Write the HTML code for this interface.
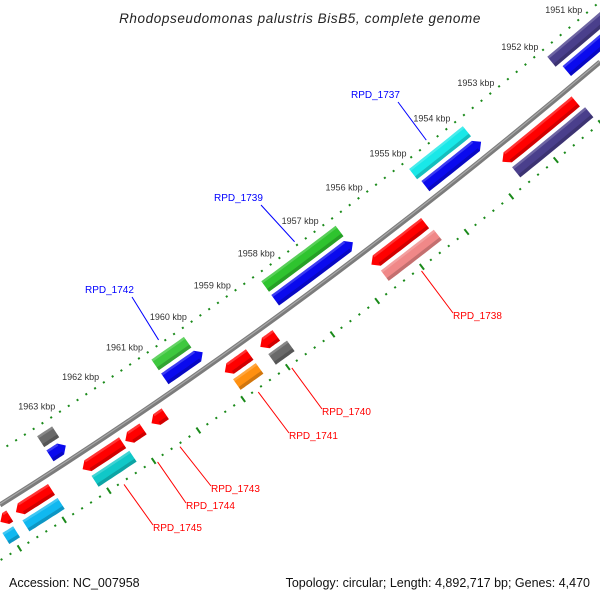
<!DOCTYPE html>
<html><head><meta charset="utf-8"><style>
body{margin:0;background:#fff}
svg{display:block;font-family:"Liberation Sans","DejaVu Sans",sans-serif}
</style></head><body>
<svg id="map" width="600" height="600" viewBox="0 0 600 600">
<text x="300" y="23" text-anchor="middle" font-size="13.5" font-style="italic" fill="#222" letter-spacing="0.6">Rhodopseudomonas palustris BisB5, complete genome</text>
<text x="9" y="587" font-size="12.5" fill="#111">Accession: NC_007958</text>
<text x="590" y="587" text-anchor="end" font-size="12.5" fill="#111">Topology: circular; Length: 4,892,717 bp; Genes: 4,470</text>
<g id="ticks"></g><g id="bb"></g><g id="genes"></g><g id="labels"></g>
</svg>
<script>
// data
const tickKbp = [1951,1952,1953,1954,1955,1956,1957,1958,1959,1960,1961,1962,1963];
const geneStart = [1951.8,1954.94,1958.3,1960.8,1963.4, 1951.7,1954.9,1958.3,1960.8,1963.4, 1953.45,1956.4,1958.9,1959.7,1961.35,1961.94,1962.9,1964.4,1964.75, 1953.5,1956.45,1958.98,1959.77,1962.95,1964.5,1964.95];
const geneEnd   = [1950.2,1953.56,1956.45,1959.9,1962.9, 1950.2,1953.6,1956.5,1959.9,1963.0, 1951.76,1955.15,1958.5,1959.1,1961.0,1961.5,1961.96,1963.56,1964.5, 1951.7,1955.1,1958.4,1959.1,1961.94,1963.55,1964.55];
const geneTrack = [0,0,0,0,0, 1,1,1,1,1, 2,2,2,2,2,2,2,2,2, 3,3,3,3,3,3,3];
const geneColor = ["#4a3f8c","#19e8e8","#2fc42f","#3ec83e","#6a6a6a", "#0a0aee","#0a0aee","#0a0aee","#0a0aee","#0a0aee",
 "#f00","#f00","#f00","#f00","#f00","#f00","#f00","#f00","#f00",
 "#4a3f8c","#f08888","#6a6a6a","#ff9010","#10c8c8","#10b8f0","#10b8f0"];
const labelText = ["RPD_1737","RPD_1739","RPD_1742","RPD_1738","RPD_1740","RPD_1741","RPD_1743","RPD_1744","RPD_1745"];
const labelKbp = [1954.3,1957.3,1960.4,1955.8,1958.7,1959.45,1961.2,1961.7,1962.45];
const labelSide = [-1,-1,-1,1,1,1,1,1,1];
const labelPos = [[351,98],[214,201],[85,293],[453,319],[322,415],[289,439],[211,492],[186,509],[153,531]];

const NS='http://www.w3.org/2000/svg';
function bez(t){const a=1-t;return [600*t, a*a*505+2*t*a*316.5+t*t*62];}
function P(k,d){const x=72+(1963-k)*44.3;const t=x/600;const p=bez(t);
 const dx=600, dy=2*(1-t)*(316.5-505)+2*t*(62-316.5);const L=Math.hypot(dx,dy);
 const nx=-dy/L, ny=dx/L; return [p[0]+d*nx,p[1]+d*ny];}
function el(tag,attrs,parent){const e=document.createElementNS(NS,tag);for(const k in attrs)e.setAttribute(k,attrs[k]);parent.appendChild(e);return e;}
const tg=document.getElementById('ticks');
for(let k=1949.5;k<=1965;k=Math.round((k+0.2)*10)/10){
 const maj=Math.abs(k-Math.round(k))<0.01;
 const a=P(k,-46-(maj?3.5:1)),b=P(k,-46+(maj?3.5:1));
 const l=el('line',{x1:a[0],y1:a[1],x2:b[0],y2:b[1],stroke:'#1a8a1a','stroke-width':2},tg);
 
 
}
for(let k=1949.55;k<=1966;k=Math.round((k+0.2)*100)/100){
 const maj=Math.abs((k-0.75)-Math.round(k-0.75))<0.01;
 const a=P(k,47-(maj?3.5:1)),b=P(k,47+(maj?3.5:1));
 const l=el('line',{x1:a[0],y1:a[1],x2:b[0],y2:b[1],stroke:'#1a8a1a','stroke-width':2},tg);
 
 
}
tickKbp.forEach(k=>{const p=P(k,-46);
 const t=el('text',{x:p[0]-10,y:p[1]-11,'text-anchor':'middle','font-size':9,fill:'#333'},tg);
 t.textContent=k+' kbp';
 
 
});
const bb=document.getElementById('bb');
const bp=el('path',{d:'M0,505 Q300,316.5 600,62',stroke:'#7c7c7c','stroke-width':5,fill:'none'},bb);


el('path',{d:'M0,504 Q300,315.5 600,61',stroke:'#a8a8a8','stroke-width':1.2,fill:'none'},bb);
const trackD=[[-38,-25],[-21,-8],[8,21],[25,38]];
const gg=document.getElementById('genes');
function poly(pts){return pts.map(p=>p[0].toFixed(1)+','+p[1].toFixed(1)).join(' ');}
geneStart.forEach((s,i)=>{
 const e=geneEnd[i],tr=geneTrack[i],[d1,d2]=trackD[tr];
 const N=12,top=[],bot=[];
 const ks=s-0.08,ke=e+0.08;
 const arrowHi = tr===2, arrowLo = tr===1;
 const ext=0.12;
 for(let j=0;j<=N;j++){const k=ks+(ke-ks)*j/N;top.push(P(k,d1));bot.push(P(k,d2));}
 let pts=[];
 if(arrowHi){pts=[P(ks+ext,(d1+d2)/2),...top,...bot.reverse()];}
 else if(arrowLo){pts=[...top,P(ke-ext,(d1+d2)/2),...bot.reverse()];}
 else pts=[...top,...bot.reverse()];
 const g=el('g',{},gg);
 
 
 el('polygon',{points:poly(pts),fill:geneColor[i]},g);
 const sh=[];for(let j=0;j<=N;j++){sh.push(P(ks+(ke-ks)*j/N,d2-3.5));}
 for(let j=N;j>=0;j--){sh.push(P(ks+(ke-ks)*j/N,d2));}
 el('polygon',{points:poly(sh),fill:'#000','fill-opacity':0.18},g);
 const hl=[];for(let j=0;j<=N;j++){hl.push(P(ks+(ke-ks)*j/N,d1));}
 for(let j=N;j>=0;j--){hl.push(P(ks+(ke-ks)*j/N,d1+2.5));}
 el('polygon',{points:poly(hl),fill:'#fff','fill-opacity':0.2},g);
});
const lg=document.getElementById('labels');
labelText.forEach((t,i)=>{
 const side=labelSide[i],col=side<0?'#0000ff':'#ff0000';
 const a=P(labelKbp[i],side<0?-50:50);
 const [lx,ly]=labelPos[i];
 const ln=el('line',{x1:a[0],y1:a[1],x2:side<0?lx+47:lx,y2:side<0?ly+4:ly-6,stroke:col,'stroke-width':1},lg);
 
 
 const tx=el('text',{x:lx,y:ly,'font-size':10,fill:col},lg);
 tx.textContent=t;
 
 
});
</script>
</body></html>
